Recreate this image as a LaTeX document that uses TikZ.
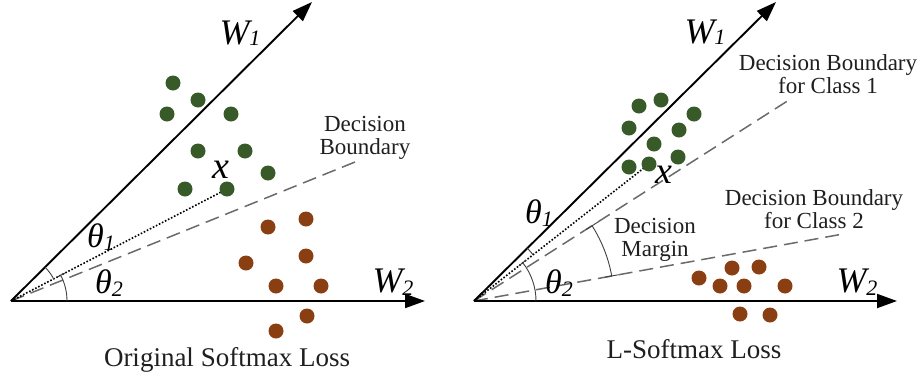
\documentclass[tikz,border=0pt]{standalone}
\usepackage{fontspec}
\setmainfont{Liberation Serif}
\usetikzlibrary{arrows.meta,calc}
\definecolor{dgreen}{HTML}{385A28}
\definecolor{dbrown}{HTML}{8A3F12}
\definecolor{bgray}{HTML}{6A6A6A}
\begin{document}
\begin{tikzpicture}[x=1pt,y=1pt,
  axisline/.style={line width=1.9pt,-{Triangle[length=20pt,width=14pt]}},
  bound/.style={draw=bgray,line width=1.5pt,dash pattern=on 14pt off 7pt},
  dotline/.style={line width=1.6pt,dash pattern=on 1.6pt off 1.8pt},
  angarc/.style={draw=black!75,line width=0.9pt},
  gdot/.style={circle,fill=dgreen,minimum size=15pt,inner sep=0pt},
  bdot/.style={circle,fill=dbrown,minimum size=15pt,inner sep=0pt},
  lbl/.style={font=\fontsize{23}{23}\selectfont,align=center,text=black!88,inner sep=0pt},
  captext/.style={font=\fontsize{27}{27}\selectfont,text=black!88,inner sep=0pt},
  sym/.style={font=\fontsize{36}{36}\selectfont\itshape,inner sep=0pt},
  ths/.style={font=\fontsize{34}{34}\selectfont\itshape,inner sep=0pt},
  xs/.style={font=\fontsize{38}{38}\selectfont\itshape,inner sep=0pt}
]
\useasboundingbox (0,0) rectangle (922,-381);

% ---------------- left panel ----------------
\coordinate (O1) at (11,-301);
\coordinate (W1a) at (312,-2);
\coordinate (W2a) at (425,-301);
\coordinate (DBa) at (360,-160);

\foreach \p [count=\i] in {(306,-219),(268,-227),(306,-256),(246,-263),(276,-286),(321,-286),(307,-316),(276,-331)}
  \node[bdot] (lb\i) at \p {};
\foreach \p [count=\i] in {(173,-83),(198,-100),(167,-114),(231,-114),(198,-151),(245,-151),(268,-173),(185,-189)}
  \node[gdot] (lg\i) at \p {};

\draw[bound] (O1) -- (DBa);
\draw[dotline] (O1) -- (227,-189) coordinate (xlc);
\node[gdot] (xl) at (xlc) {};
\draw[axisline] (O1) -- (W1a);
\draw[axisline] (O1) -- (W2a);

\draw[angarc] ($(O1)+(27.4:48)$) arc[start angle=27.4,end angle=44.7,radius=48];
\draw[angarc] ($(O1)+(0:56)$) arc[start angle=0,end angle=27.4,radius=56];
\draw[angarc] ($(O1)+(27.4:52)$) -- ($(O1)+(27.4:61)$);

\node[sym] (lW1) at (240,-33) {W\raisebox{-1pt}{\fontsize{22}{22}\selectfont 1}};
\node[sym] (lW2) at (393,-282) {W\raisebox{-3pt}{\fontsize{22}{22}\selectfont 2}};
\node[xs] (lx) at (221,-170) {x};
\node[ths] (lt1) at (101,-237) {θ\raisebox{-3pt}{\fontsize{22}{22}\selectfont 1}};
\node[ths] (lt2) at (109,-283) {θ\raisebox{-3pt}{\fontsize{22}{22}\selectfont 2}};
\node[lbl] (ldb) at (365,-138) {Decision\\Boundary};
\node[captext] (lcap) at (227,-360) {Original Softmax Loss};

% ---------------- right panel ----------------
\coordinate (O2) at (474,-301);
\coordinate (W1b) at (776,-2);
\coordinate (W2b) at (897,-301);
\coordinate (DB1) at (789,-100);
\coordinate (DB2) at (843,-234);

\foreach \p [count=\i] in {(732,-268),(759,-267),(699,-278),(720,-286),(744,-286),(785,-286),(740,-314),(770,-315)}
  \node[bdot] (rb\i) at \p {};

\draw[bound] (O2) -- (DB1);
\draw[bound] (O2) -- (DB2);
\draw[dotline] (O2) -- (649,-164) coordinate (xrc);

\foreach \p [count=\i] in {(639,-106),(661,-100),(694,-114),(629,-128),(679,-130),(654,-144),(678,-157),(629,-167)}
  \node[gdot] (rg\i) at \p {};
\node[gdot] (xr) at (xrc) {};
\draw[axisline] (O2) -- (W1b);
\draw[axisline] (O2) -- (W2b);

\draw[angarc] ($(O2)+(38.1:75)$) arc[start angle=38.1,end angle=44.7,radius=75];
\draw[angarc] ($(O2)+(0:62)$) arc[start angle=0,end angle=38.1,radius=62];
\draw[angarc] ($(O2)+(38.1:57)$) -- ($(O2)+(38.1:66)$);
% decision margin
\draw[angarc] ($(O2)+(10.3:140)$) arc[start angle=10.3,end angle=32.5,radius=140];
\draw[angarc] ($(O2)+(10.3:133)$) -- ($(O2)+(10.3:147)$);
\draw[angarc] ($(O2)+(32.5:133)$) -- ($(O2)+(32.5:147)$);

\node[sym] (rW1) at (705,-32) {W\raisebox{-1pt}{\fontsize{22}{22}\selectfont 1}};
\node[sym] (rW2) at (857,-282) {W\raisebox{-3pt}{\fontsize{22}{22}\selectfont 2}};
\node[xs] (rx) at (664,-175) {x};
\node[ths] (rt1) at (539,-213) {θ\raisebox{-3pt}{\fontsize{22}{22}\selectfont 1}};
\node[ths] (rt2) at (559,-283) {θ\raisebox{-3pt}{\fontsize{22}{22}\selectfont 2}};
\node[lbl] (rdb1) at (828,-74) {Decision Boundary\\for Class 1};
\node[lbl] (rdb2) at (814,-209) {Decision Boundary\\for Class 2};
\node[lbl] (rdm) at (655,-240) {Decision\\Margin};
\node[captext] (rcap) at (694,-349) {L-Softmax Loss};
\end{tikzpicture}
\end{document}
